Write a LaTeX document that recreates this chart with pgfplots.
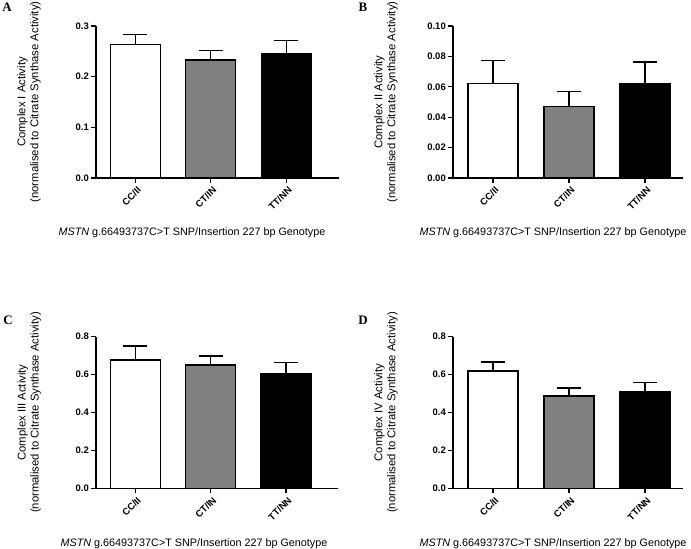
\documentclass[border=0pt]{standalone}
\usepackage{pgfplots}
\pgfplotsset{compat=1.18}
\usepackage{fontspec}
\setmainfont{Liberation Sans}
\newfontfamily\seriffont{Liberation Serif}
\definecolor{midgray}{RGB}{128,128,128}
\pgfplotsset{
  panel/.style={
    scale only axis,
    anchor=south west,
    axis x line=bottom, axis y line=left,
    axis line style={-, line width=1.2pt},
    tick align=outside,
    major tick length=5pt,
    every tick/.style={line width=1.2pt, black},
    xtick={0,1,2},
    xticklabels={CC/II, CT/IN, TT/NN},
    x tick label style={rotate=45, anchor=north east, font=\bfseries\fontsize{9.5}{11}\selectfont, inner sep=1pt, yshift=-2pt},
    y tick label style={font=\bfseries\fontsize{9.5}{11}\selectfont, inner sep=2pt},
    /pgf/number format/assume math mode=true,
    /pgf/number format/fixed,
    /pgf/number format/fixed zerofill,
    ymin=0,
    ybar, bar width=50pt,
    ylabel style={anchor=center, align=center, font=\fontsize{11.3}{13}\selectfont},
    xlabel style={anchor=center, font=\fontsize{10.8}{13}\selectfont},
    xlabel={\textit{MSTN} g.66493737C>T SNP/Insertion 227 bp Genotype},
    clip=false,
  },
  bars/.style={bar shift=0pt, draw=black, line width=1.2pt,
    error bars/y dir=plus, error bars/y explicit,
    error bars/error bar style={line width=1.2pt, black},
    error bars/error mark options={rotate=90, mark size=12pt, line width=1.2pt, black}},
}
\begin{document}
\begin{tikzpicture}[x=1pt,y=1pt]
\path[use as bounding box] (0,0) rectangle (691,549);
% A
\begin{axis}[panel, at={(96pt,371pt)}, width=243pt, height=152pt,
  xmin=-0.52, xmax=2.70, ymax=0.3, ytick={0,0.1,0.2,0.3},
  /pgf/number format/precision=1,
  ylabel={Complex I Activity\\(normalised to Citrate Synthase Activity)},
  ylabel style={at={(axis description cs:-0.276,0.5)}},
  xlabel style={at={(axis description cs:0.395,-0.362)}}]
\addplot[bars, fill=white] coordinates {(0,0.264) +- (0,0.020)};
\addplot[bars, fill=midgray] coordinates {(1,0.233) +- (0,0.019)};
\addplot[bars, fill=black] coordinates {(2,0.245) +- (0,0.027)};
\end{axis}
% B
\begin{axis}[panel, at={(453pt,371pt)}, width=230pt, height=152pt,
  xmin=-0.526, xmax=2.5, ymax=0.10, ytick={0,0.02,0.04,0.06,0.08,0.10},
  /pgf/number format/precision=2,
  ylabel={Complex II Activity\\(normalised to Citrate Synthase Activity)},
  ylabel style={at={(axis description cs:-0.291,0.5)}},
  xlabel style={at={(axis description cs:0.435,-0.362)}}]
\addplot[bars, fill=white] coordinates {(0,0.0622) +- (0,0.0152)};
\addplot[bars, fill=midgray] coordinates {(1,0.0468) +- (0,0.0099)};
\addplot[bars, fill=black] coordinates {(2,0.0622) +- (0,0.0141)};
\end{axis}
% C
\begin{axis}[panel, at={(96pt,60.7pt)}, width=242pt, height=151.6pt,
  xmin=-0.52, xmax=2.69, ymax=0.8, ytick={0,0.2,0.4,0.6,0.8},
  /pgf/number format/precision=1,
  ylabel={Complex III Activity\\(normalised to Citrate Synthase Activity)},
  ylabel style={at={(axis description cs:-0.276,0.5)}},
  xlabel style={at={(axis description cs:0.405,-0.367)}}]
\addplot[bars, fill=white] coordinates {(0,0.677) +- (0,0.074)};
\addplot[bars, fill=midgray] coordinates {(1,0.651) +- (0,0.047)};
\addplot[bars, fill=black] coordinates {(2,0.603) +- (0,0.060)};
\end{axis}
% D
\begin{axis}[panel, at={(453pt,60.7pt)}, width=230pt, height=151.6pt,
  xmin=-0.526, xmax=2.5, ymax=0.8, ytick={0,0.2,0.4,0.6,0.8},
  /pgf/number format/precision=1,
  ylabel={Complex IV Activity\\(normalised to Citrate Synthase Activity)},
  ylabel style={at={(axis description cs:-0.291,0.5)}},
  xlabel style={at={(axis description cs:0.435,-0.367)}}]
\addplot[bars, fill=white] coordinates {(0,0.619) +- (0,0.047)};
\addplot[bars, fill=midgray] coordinates {(1,0.487) +- (0,0.042)};
\addplot[bars, fill=black] coordinates {(2,0.508) +- (0,0.049)};
\end{axis}
\node[font=\seriffont\bfseries\fontsize{13}{15}\selectfont] at (7,541.5) {A};
\node[font=\seriffont\bfseries\fontsize{13}{15}\selectfont] at (363,542) {B};
\node[font=\seriffont\bfseries\fontsize{13}{15}\selectfont] at (8,229) {C};
\node[font=\seriffont\bfseries\fontsize{13}{15}\selectfont] at (363,229) {D};
\end{tikzpicture}
\end{document}
